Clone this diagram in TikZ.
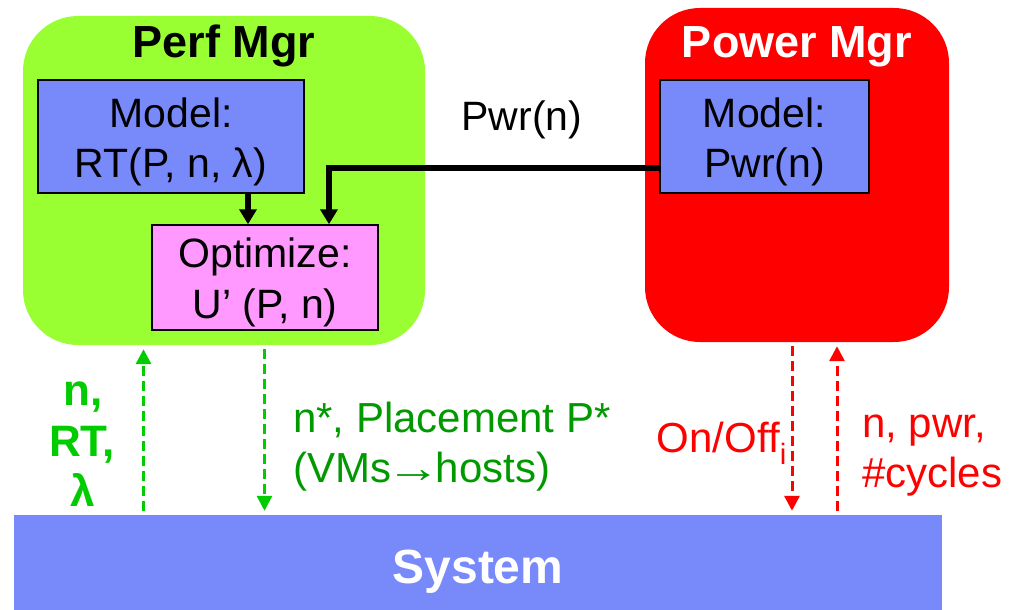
\documentclass[tikz,border=0pt]{standalone}
\usepackage{fontspec}
\setmainfont{Liberation Sans}
\usetikzlibrary{arrows.meta}
\definecolor{perfgreen}{HTML}{99FF33}
\definecolor{modelblue}{HTML}{7889FA}
\definecolor{optpink}{HTML}{FF99FF}
\definecolor{pwrred}{HTML}{FF0000}
\definecolor{feedgreen}{HTML}{00CC00}
\definecolor{textgreen}{HTML}{009900}
\begin{document}
\begin{tikzpicture}[x=1pt,y=-1pt,
  mgrbox/.style={rectangle, rounded corners=55pt, inner sep=0pt, draw=none},
  box/.style={rectangle, draw=black, line width=1.5pt, inner sep=0pt},
  txt/.style={anchor=base, inner sep=0pt, font=\fontsize{41}{48}\selectfont},
  ttl/.style={anchor=base, inner sep=0pt, font=\fontsize{45}{50}\selectfont\bfseries},
  flow/.style={line width=5.5pt, -{Triangle[width=17pt,length=15pt]}},
  feed/.style={line width=3pt, dash pattern=on 10pt off 5pt,
    shorten <=4pt, shorten >=4pt, -{Triangle[width=15pt,length=15pt]}},
]
\useasboundingbox (0,0) rectangle (1015,610);

% manager panels
\node[mgrbox, fill=perfgreen, minimum width=402pt, minimum height=329pt] (perf) at (224,180.5) {};
\node[ttl] (perft) at (224,58) {Perf Mgr};
\node[mgrbox, fill=pwrred, minimum width=304pt, minimum height=334pt] (power) at (797,175) {};
\node[ttl, text=white] (powert) at (797,58) {Power Mgr};

% inner blocks
\node[box, fill=modelblue, minimum width=266pt, minimum height=113pt] (model) at (171,136.5) {};
\node[txt] (modelt1) at (171,127) {Model:};
\node[txt] (modelt2) at (171,177) {RT(P, n, λ)};

\node[box, fill=optpink, minimum width=226pt, minimum height=105pt] (opt) at (265,277.5) {};
\node[txt] (optt1) at (265,267) {Optimize:};
\node[txt] (optt2) at (265,318) {U’ (P, n)};

\node[box, fill=modelblue, minimum width=209pt, minimum height=113pt] (pmodel) at (764.5,136.5) {};
\node[txt] (pmodelt1) at (764.5,127) {Model:};
\node[txt] (pmodelt2) at (764.5,177) {Pwr(n)};

% system bar
\node[rectangle, fill=modelblue, inner sep=0pt, minimum width=928pt, minimum height=95pt] (system) at (478,562.5) {};
\node[anchor=base, inner sep=0pt, text=white, font=\fontsize{48}{52}\selectfont\bfseries] (systemt) at (478,583) {System};

% model-to-optimizer flows
\coordinate (a1) at (248,0);
\coordinate (bend) at (329,168);
\draw[flow] (model.south -| a1) -- (opt.north -| a1);
\draw[flow] (pmodel.west |- bend) -- (bend) -- (opt.north -| bend);
\node[txt] (pwrlbl) at (522,130) {Pwr(n)};

% perf manager feedback loop
\coordinate (gup) at (143.5,0);
\coordinate (gdn) at (264.5,0);
\draw[feed, feedgreen] (system.north -| gup) -- (perf.south -| gup);
\draw[feed, feedgreen] (perf.south -| gdn) -- (system.north -| gdn);
\begin{scope}[every node/.style={anchor=base, inner sep=0pt, text=feedgreen, font=\fontsize{44}{48}\selectfont\bfseries}]
  \node (in1) at (83,405) {n,};
  \node (in2) at (82,456) {RT,};
  \node (in3) at (83,506) {λ};
\end{scope}
\begin{scope}[every node/.style={anchor=base west, inner sep=0pt, text=textgreen, font=\fontsize{42}{48}\selectfont}]
  \node (out1) at (293,432) {n*, Placement P*};
  \node (out2) at (293,482) {(VMs\kern-5pt\scalebox{1.3}[1]{→}\kern-5pt hosts)};
\end{scope}

% power manager feedback loop
\coordinate (rdn) at (792,0);
\coordinate (rup) at (837,0);
\draw[feed, pwrred] (power.south -| rdn) -- (system.north -| rdn);
\draw[feed, pwrred] (system.north -| rup) -- (power.south -| rup);
\node[anchor=base east, inner sep=0pt, text=pwrred, font=\fontsize{42}{48}\selectfont] (onoff) at (787,452) {On/Off\textsubscript{i}};
\begin{scope}[every node/.style={anchor=base west, inner sep=0pt, text=pwrred, font=\fontsize{42}{48}\selectfont}]
  \node (pin1) at (862,437) {n, pwr,};
  \node (pin2) at (862,487) {\#cycles};
\end{scope}
\end{tikzpicture}
\end{document}
